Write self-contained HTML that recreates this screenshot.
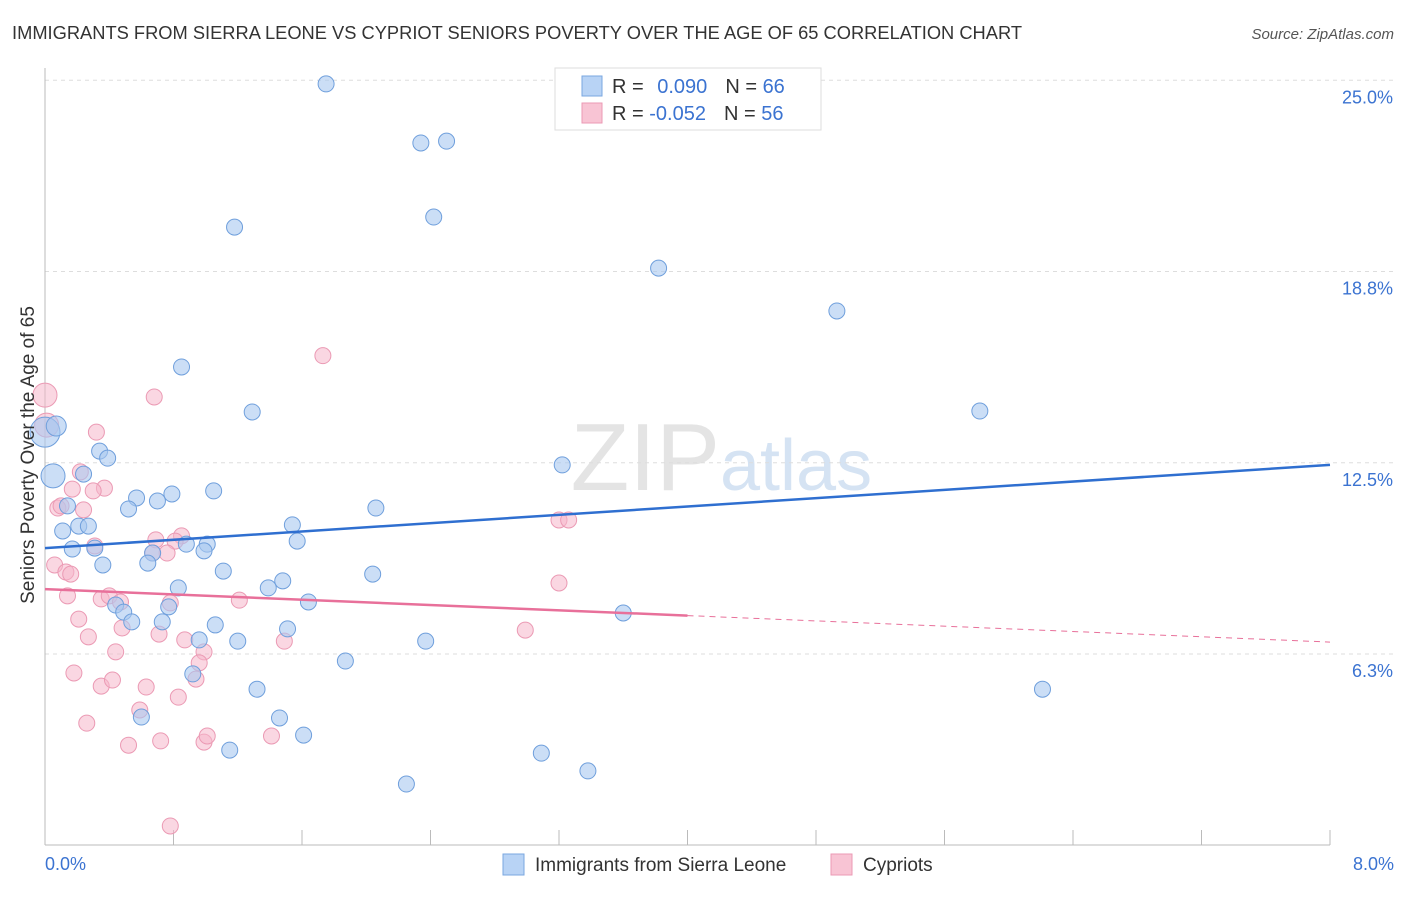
<!DOCTYPE html>
<html><head><meta charset="utf-8"><style>
body{margin:0;background:#fff;font-family:"Liberation Sans",sans-serif}
svg text{font-family:"Liberation Sans",sans-serif}
</style></head><body>
<svg width="1406" height="892" xmlns="http://www.w3.org/2000/svg">
<text x="12" y="39" font-size="18" fill="#333" textLength="1010" lengthAdjust="spacingAndGlyphs">IMMIGRANTS FROM SIERRA LEONE VS CYPRIOT SENIORS POVERTY OVER THE AGE OF 65 CORRELATION CHART</text>
<text x="1394" y="39" font-size="15" fill="#555" font-style="italic" text-anchor="end">Source: ZipAtlas.com</text>
<text x="720" y="490" font-size="96" fill="#e4e4e4" font-family="Liberation Serif" text-anchor="end">ZIP</text>
<text x="720" y="490" font-size="72" fill="#d5e3f3">atlas</text>
<g id="grid"></g><g id="axes"></g><g id="marks"></g>
<text transform="translate(34,455) rotate(-90)" font-size="19" fill="#333" text-anchor="middle">Seniors Poverty Over the Age of 65</text>
<text x="45" y="870" font-size="18" fill="#3b73d1">0.0%</text>
<text x="1394" y="870" font-size="18" fill="#3b73d1" text-anchor="end">8.0%</text>
<g>
<rect x="555" y="68" width="266" height="62" fill="#fff" stroke="#ddd"/>
<rect x="582" y="76" width="20" height="20" fill="#b8d3f5" stroke="#7aa7e0"/>
<rect x="582" y="103" width="20" height="20" fill="#f8c4d4" stroke="#eb9ab4"/>
<text x="612" y="93" font-size="20" fill="#333">R = <tspan fill="#3b73d1" dx="8">0.090</tspan><tspan dx="18">N = </tspan><tspan fill="#3b73d1">66</tspan></text>
<text x="612" y="120" font-size="20" fill="#333">R = <tspan fill="#3b73d1">-0.052</tspan><tspan dx="18">N = </tspan><tspan fill="#3b73d1">56</tspan></text>
</g>
<g>
<rect x="503" y="854" width="21" height="21" fill="#b8d3f5" stroke="#7aa7e0"/>
<text x="535" y="871" font-size="19" fill="#333">Immigrants from Sierra Leone</text>
<rect x="831" y="854" width="21" height="21" fill="#f8c4d4" stroke="#eb9ab4"/>
<text x="863" y="871" font-size="19" fill="#333">Cypriots</text>
</g>
</svg>
<script>
const yTicks=[6.25,12.5,18.75,25];
const yTickLabels=["6.3%","12.5%","18.8%","25.0%"];
const xTicks=[0,0.8,1.6,2.4,3.2,4.0,4.8,5.6,6.4,7.2,8.0];
const blueX=[1.75,2.34,2.50,2.42,1.18,3.82,4.93,0.85,1.29,5.82,0,0.07,0.05,0.34,0.39,0.24,3.22,1.05,0.79,0.57,0.70,0.52,2.06,0.14,0.11,0.21,0.27,1.54,1.57,0.88,1.01,0.99,0.67,0.31,0.17,0.64,0.36,1.11,2.04,1.48,1.39,0.83,0.77,0.44,0.49,1.64,0.54,0.73,1.06,3.60,1.51,0.96,1.20,2.37,1.87,0.92,1.32,6.21,0.60,1.46,1.61,1.15,3.09,3.38,2.25];
const blueY=[24.88,22.95,23.01,20.53,20.20,18.86,17.46,15.63,14.16,14.19,13.50,13.70,12.07,12.88,12.65,12.13,12.43,11.58,11.48,11.35,11.25,10.99,11.02,11.09,10.27,10.43,10.43,10.47,9.94,9.84,9.84,9.62,9.55,9.71,9.68,9.22,9.16,8.96,8.86,8.64,8.41,8.41,7.79,7.85,7.62,7.95,7.30,7.30,7.20,7.59,7.07,6.71,6.67,6.67,6.02,5.60,5.10,5.10,4.19,4.16,3.60,3.11,3.01,2.43,2.00];
const blueR=[8,8,8,8,8,8,8,8,8,8,15,10,12,8,8,8,8,8,8,8,8,8,8,8,8,8,8,8,8,8,8,8,8,8,8,8,8,8,8,8,8,8,8,8,8,8,8,8,8,8,8,8,8,8,8,8,8,8,8,8,8,8,8,8,8];
const pinkX=[0,0.01,0.68,1.73,0.32,0.22,0.37,0.17,0.30,0.08,0.24,0.10,0.69,0.85,0.81,0.76,0.67,0.31,0.06,0.13,0.16,3.20,3.26,3.20,0.14,0.35,0.40,0.47,0.78,1.21,0.21,0.48,0.71,0.87,1.49,2.99,0.27,0.99,0.44,0.96,0.18,0.35,0.42,0.63,0.94,0.83,0.59,0.26,0.52,0.72,0.99,1.01,1.41,0.78];
const pinkY=[14.71,13.73,14.65,16.00,13.50,12.20,11.67,11.64,11.58,11.02,10.96,11.09,9.98,10.11,9.94,9.55,9.55,9.78,9.16,8.93,8.86,10.63,10.63,8.57,8.15,8.05,8.15,7.95,7.92,8.01,7.39,7.10,6.90,6.71,6.67,7.03,6.81,6.32,6.32,5.96,5.63,5.20,5.40,5.17,5.43,4.84,4.42,3.99,3.27,3.41,3.37,3.57,3.57,0.63];
const blueTrend=[9.71,12.43];
const pinkTrend=[8.37,6.64];
const pinkSolidEnd=4.0;
const X=v=>45+v/8*1285, Y=v=>654-(v-6.25)*30.6;
const NS="http://www.w3.org/2000/svg";
function mk(t,a,p){const e=document.createElementNS(NS,t);for(const k in a)e.setAttribute(k,a[k]);p.appendChild(e);return e;}
const grid=document.getElementById('grid'),axes=document.getElementById('axes'),marks=document.getElementById('marks');
yTicks.forEach((t,i)=>{
 const l=mk('line',{x1:45,x2:1394,y1:Y(t),y2:Y(t),stroke:'#ddd','stroke-dasharray':'4,4'},grid);
 
 
 const tx=mk('text',{x:1393,y:Y(t)+23,'font-size':18,fill:'#3b73d1','text-anchor':'end'},grid);
 tx.textContent=yTickLabels[i];
 
 
});
const xa=mk('line',{x1:45,x2:1330,y1:845,y2:845,stroke:'#bbb'},axes);


const ya=mk('line',{x1:45,x2:45,y1:68,y2:845,stroke:'#bbb'},axes);


xTicks.forEach(t=>{const l=mk('line',{x1:X(t),x2:X(t),y1:830,y2:845,stroke:'#bbb'},axes);
 
 });
pinkX.forEach((x,i)=>{const c=mk('circle',{cx:X(x),cy:Y(pinkY[i]),r:i<2?12:8,fill:'#f5b6ca','fill-opacity':0.55,stroke:'#eb9ab4','stroke-width':1},marks);
 
 });
blueX.forEach((x,i)=>{const c=mk('circle',{cx:X(x),cy:Y(blueY[i]),r:blueR[i],fill:'#a8c8f0','fill-opacity':0.6,stroke:'#6f9fdc','stroke-width':1},marks);
 
 });
const bt=mk('line',{x1:X(0),y1:Y(blueTrend[0]),x2:X(8),y2:Y(blueTrend[1]),stroke:'#2f6fd0','stroke-width':2.5},marks);


const py=v=>pinkTrend[0]+(pinkTrend[1]-pinkTrend[0])*v/8;
const pt=mk('line',{x1:X(0),y1:Y(pinkTrend[0]),x2:X(pinkSolidEnd),y2:Y(py(pinkSolidEnd)),stroke:'#e8709a','stroke-width':2.5},marks);


const pd=mk('line',{x1:X(pinkSolidEnd),y1:Y(py(pinkSolidEnd)),x2:X(8),y2:Y(pinkTrend[1]),stroke:'#e8709a','stroke-width':1,'stroke-dasharray':'6,5'},marks);


</script>
</body></html>
